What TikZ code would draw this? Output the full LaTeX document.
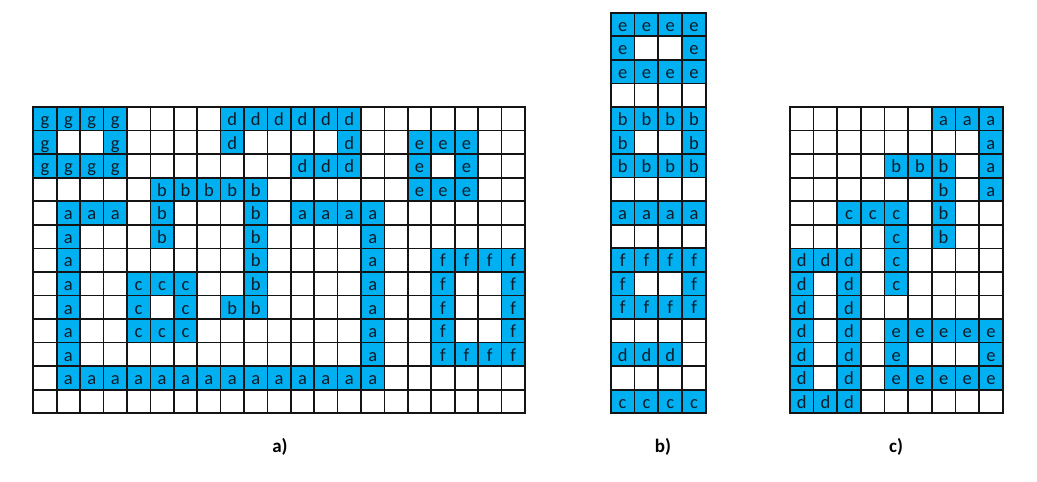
\documentclass[tikz,border=0pt]{standalone}
\usepackage{fontspec}
\setmainfont{Carlito}
\definecolor{cellblue}{RGB}{0,176,240}
\definecolor{celltext}{RGB}{12,28,42}
\definecolor{gridcol}{RGB}{20,20,20}
\tikzset{
  cellbox/.style 2 args={fill=cellblue, draw=none, inner sep=0pt,
    minimum width=#1, minimum height=#2, text height=13.5pt, text depth=0pt,
    font=\fontsize{18.5}{18.5}\selectfont, text=celltext},
  gline/.style={draw=gridcol, line width=1.7pt, line cap=rect},
  gborder/.style={draw=gridcol, line width=1.9pt},
  caption/.style={font=\fontsize{19}{19}\selectfont\bfseries, text=black, inner sep=0pt}
}
\begin{document}
\begin{tikzpicture}[x=1pt,y=-1pt]
\useasboundingbox (0,0) rectangle (1037,482);
\fill[white] (0,0) rectangle (1037,482);

% ---------- grid a ----------
\begin{scope}[shift={(33.3,107)},x=23.41pt,y=-23.56pt]
\foreach \c/\r/\t in {
0/0/g,1/0/g,2/0/g,3/0/g,8/0/d,9/0/d,10/0/d,11/0/d,12/0/d,13/0/d,
0/1/g,3/1/g,8/1/d,13/1/d,16/1/e,17/1/e,18/1/e,
0/2/g,1/2/g,2/2/g,3/2/g,11/2/d,12/2/d,13/2/d,16/2/e,18/2/e,
5/3/b,6/3/b,7/3/b,8/3/b,9/3/b,16/3/e,17/3/e,18/3/e,
1/4/a,2/4/a,3/4/a,5/4/b,9/4/b,11/4/a,12/4/a,13/4/a,14/4/a,
1/5/a,5/5/b,9/5/b,14/5/a,
1/6/a,9/6/b,14/6/a,17/6/f,18/6/f,19/6/f,20/6/f,
1/7/a,4/7/c,5/7/c,6/7/c,9/7/b,14/7/a,17/7/f,20/7/f,
1/8/a,4/8/c,6/8/c,8/8/b,9/8/b,14/8/a,17/8/f,20/8/f,
1/9/a,4/9/c,5/9/c,6/9/c,14/9/a,17/9/f,20/9/f,
1/10/a,14/10/a,17/10/f,18/10/f,19/10/f,20/10/f,
1/11/a,2/11/a,3/11/a,4/11/a,5/11/a,6/11/a,7/11/a,8/11/a,9/11/a,10/11/a,11/11/a,12/11/a,13/11/a,14/11/a}
  \node[cellbox={23.41pt}{23.56pt}] (a-\c-\r) at (\c+0.5,\r+0.5) {\t};
\foreach \i in {1,...,20} \draw[gline] (\i,0) -- (\i,13);
\foreach \j in {1,...,12} \draw[gline] (0,\j) -- (21,\j);
\draw[gborder] (0,0) rectangle (21,13);
\end{scope}

% ---------- grid b ----------
\begin{scope}[shift={(610.7,12.7)},x=23.82pt,y=-23.56pt]
\foreach \c/\r/\t in {
0/0/e,1/0/e,2/0/e,3/0/e,0/1/e,3/1/e,0/2/e,1/2/e,2/2/e,3/2/e,
0/4/b,1/4/b,2/4/b,3/4/b,0/5/b,3/5/b,0/6/b,1/6/b,2/6/b,3/6/b,
0/8/a,1/8/a,2/8/a,3/8/a,
0/10/f,1/10/f,2/10/f,3/10/f,0/11/f,3/11/f,0/12/f,1/12/f,2/12/f,3/12/f,
0/14/d,1/14/d,2/14/d,
0/16/c,1/16/c,2/16/c,3/16/c}
  \node[cellbox={23.82pt}{23.56pt}] (b-\c-\r) at (\c+0.5,\r+0.5) {\t};
\foreach \i in {1,...,3} \draw[gline] (\i,0) -- (\i,17);
\foreach \j in {1,...,16} \draw[gline] (0,\j) -- (4,\j);
\draw[gborder] (0,0) rectangle (4,17);
\end{scope}

% ---------- grid c ----------
\begin{scope}[shift={(790,107)},x=23.63pt,y=-23.56pt]
\foreach \c/\r/\t in {
6/0/a,7/0/a,8/0/a,8/1/a,4/2/b,5/2/b,6/2/b,8/2/a,6/3/b,8/3/a,
2/4/c,3/4/c,4/4/c,6/4/b,4/5/c,6/5/b,
0/6/d,1/6/d,2/6/d,4/6/c,0/7/d,2/7/d,4/7/c,0/8/d,2/8/d,
0/9/d,2/9/d,4/9/e,5/9/e,6/9/e,7/9/e,8/9/e,
0/10/d,2/10/d,4/10/e,8/10/e,
0/11/d,2/11/d,4/11/e,5/11/e,6/11/e,7/11/e,8/11/e,
0/12/d,1/12/d,2/12/d}
  \node[cellbox={23.63pt}{23.56pt}] (c-\c-\r) at (\c+0.5,\r+0.5) {\t};
\foreach \i in {1,...,8} \draw[gline] (\i,0) -- (\i,13);
\foreach \j in {1,...,12} \draw[gline] (0,\j) -- (9,\j);
\draw[gborder] (0,0) rectangle (9,13);
\end{scope}

% ---------- captions ----------
\node[caption] (capa) at (280,447) {a)};
\node[caption] (capb) at (663,447) {b)};
\node[caption] (capc) at (896,447) {c)};
\end{tikzpicture}
\end{document}
